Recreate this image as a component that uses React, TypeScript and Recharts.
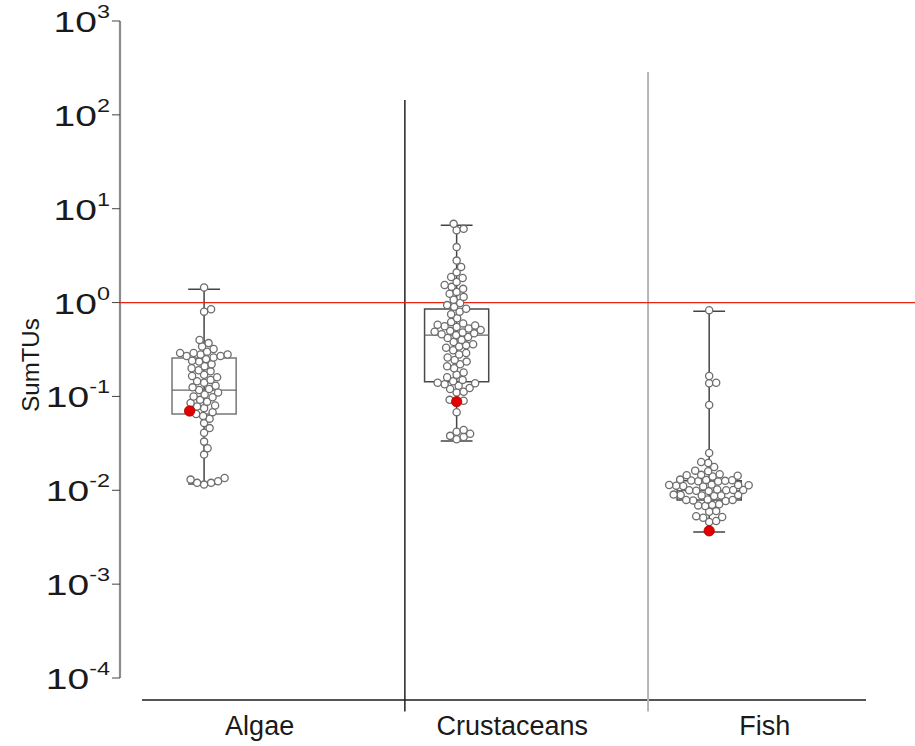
import React from "react";
import {
  ComposedChart,
  Scatter,
  XAxis,
  YAxis,
  ReferenceLine,
  ReferenceArea,
} from "recharts";

const GROUPS = ["Algae", "Crustaceans", "Fish"];

const ALGAE = [
  1.45, 0.85, 0.8, 0.4, 0.37, 0.34, 0.32, 0.3, 0.29, 0.29, 0.28, 0.28, 0.27,
  0.27, 0.26, 0.25, 0.24, 0.235, 0.22, 0.21, 0.2, 0.19, 0.185, 0.17, 0.165,
  0.16, 0.15, 0.145, 0.14, 0.13, 0.125, 0.12, 0.117, 0.11, 0.105, 0.1, 0.098,
  0.092, 0.088, 0.085, 0.08, 0.078, 0.075, 0.068, 0.065, 0.062, 0.058, 0.052,
  0.046, 0.041, 0.033, 0.028, 0.024, 0.0135, 0.013, 0.0125, 0.012, 0.012,
  0.0115,
];

const CRUSTACEANS = [
  6.9, 6.1, 5.9, 3.9, 2.8, 2.4, 2.1, 1.87, 1.83, 1.66, 1.54, 1.47, 1.4, 1.3,
  1.24, 1.15, 1.07, 0.99, 0.94, 0.9, 0.86, 0.8, 0.75, 0.68, 0.62, 0.6, 0.58,
  0.57, 0.56, 0.55, 0.53, 0.51, 0.5, 0.49, 0.48, 0.47, 0.46, 0.45, 0.43, 0.42,
  0.4, 0.38, 0.36, 0.35, 0.34, 0.33, 0.31, 0.29, 0.28, 0.26, 0.245, 0.235,
  0.22, 0.21, 0.2, 0.18, 0.17, 0.16, 0.15, 0.145, 0.14, 0.138, 0.135, 0.13,
  0.123, 0.12, 0.112, 0.11, 0.092, 0.09, 0.068, 0.044, 0.042, 0.04, 0.038,
  0.037, 0.035,
];

const FISH = [
  0.83, 0.165, 0.14, 0.138, 0.081, 0.025, 0.02, 0.0195, 0.0177, 0.0162, 0.016,
  0.0148, 0.0146, 0.0145, 0.0143, 0.014, 0.013, 0.0129, 0.0128, 0.0127,
  0.0126, 0.0125, 0.0124, 0.0115, 0.0114, 0.0114, 0.0113, 0.0112, 0.0111,
  0.011, 0.0102, 0.0101, 0.0101, 0.01, 0.01, 0.0099, 0.0098, 0.009, 0.0089,
  0.0089, 0.0088, 0.0088, 0.0087, 0.008, 0.0079, 0.0079, 0.0078, 0.0077,
  0.0071, 0.007, 0.0069, 0.0068, 0.006, 0.0059, 0.0053, 0.0052, 0.0051,
  0.0047, 0.0046,
];

const SERIES = [ALGAE, CRUSTACEANS, FISH];
const HIGHLIGHT = [0.07, 0.088, 0.0037];

// box plot stats
const BOX_MIN = [0.0117, 0.0336, 0.0036];
const BOX_Q1 = [0.065, 0.143, 0.0079];
const BOX_MEDIAN = [0.117, 0.451, 0.0099];
const BOX_Q3 = [0.257, 0.853, 0.0126];
const BOX_MAX = [1.39, 6.67, 0.81];

const Y_TICKS = [1e-4, 1e-3, 1e-2, 1e-1, 1, 10, 100, 1000];
const THRESHOLD = 1;

// layout
const W = 915;
const H = 746;
const TOP = 21;
const LEFT = 120;
const XAXIS_H = 46;
const X_MIN = -0.333;
const X_MAX = 2.815;
const Y_FLOOR = 5.83e-5;
const Y_CEIL = 1000;
const BOX_HALF = 0.127;
const CAP_HALF = 0.063;
const LABEL_SHIFT = 0.22;
const SEPARATORS = [
  { x: 0.795, top: 144, color: "#222", width: 1.5 },
  { x: 1.758, top: 286, color: "#b5b5b5", width: 2 },
];
const SEP_BOTTOM = 4.4e-5;
const XLINE_FROM = -0.246;
const XLINE_TO = 2.621;
const FONT = "'Liberation Sans', Arial, sans-serif";

const PX_PER_UNIT = (W - LEFT) / (X_MAX - X_MIN);
const PX_PER_DECADE =
  (H - XAXIS_H - TOP) / (Math.log10(Y_CEIL) - Math.log10(Y_FLOOR));
const DOT_GAP = 7;

// simple beeswarm: push each dot sideways until it doesn't overlap
function swarm(values: number[], red: number, center: number) {
  const items = values
    .map((v) => ({ v, red: false }))
    .concat([{ v: red, red: true }])
    .sort((a, b) => a.v - b.v);
  const placed: { px: number; py: number }[] = [];
  return items.map((it) => {
    const py = -Math.log10(it.v) * PX_PER_DECADE;
    let best = 0;
    for (let step = 0; step < 400; step++) {
      const cand =
        step === 0 ? 0 : (step % 2 ? 1 : -1) * Math.ceil(step / 2) * 0.5;
      const ok = placed.every(
        (p) => (p.px - cand) ** 2 + (p.py - py) ** 2 >= DOT_GAP * DOT_GAP
      );
      if (ok) {
        best = cand;
        break;
      }
    }
    placed.push({ px: best, py });
    return { x: center + best / PX_PER_UNIT, y: it.v, red: it.red };
  });
}

const allPoints = SERIES.flatMap((vals, i) => swarm(vals, HIGHLIGHT[i], i));
const openPoints = allPoints.filter((p) => !p.red);
const redPoints = allPoints.filter((p) => p.red);

const YTick = (props: any) => {
  const { x, y, payload } = props;
  const exp = Math.round(Math.log10(payload.value));
  return (
    <g transform={`translate(${x},${y}) scale(1.3,1)`}>
      <text x={0} y={0} textAnchor="end" fill="#1a1a1a" fontFamily={FONT}>
        <tspan fontSize={30} dy={11}>
          10
        </tspan>
        <tspan fontSize={18} dy={-14}>
          {exp}
        </tspan>
      </text>
    </g>
  );
};

const XTick = (props: any) => {
  const { x, y, payload } = props;
  const idx = Math.round(payload.value - LABEL_SHIFT);
  return (
    <text
      x={x}
      y={y + 35}
      textAnchor="middle"
      fill="#1a1a1a"
      fontSize={27}
      fontFamily={FONT}
    >
      {GROUPS[idx]}
    </text>
  );
};

const OpenDot = (props: any) => (
  <circle
    cx={props.cx}
    cy={props.cy}
    r={3.6}
    fill="#fff"
    stroke="#6e6e6e"
    strokeWidth={1.3}
  />
);

const RedDot = (props: any) => (
  <circle
    cx={props.cx}
    cy={props.cy}
    r={5.2}
    fill="#e00000"
    stroke="#b00000"
    strokeWidth={0.8}
  />
);

export default function App() {
  return (
    <div style={{ position: "absolute", left: 0, top: 0, background: "#fff" }}>
      <ComposedChart
        width={W}
        height={H}
        margin={{ top: TOP, right: 0, bottom: 0, left: 0 }}
      >
        <XAxis
          type="number"
          dataKey="x"
          domain={[X_MIN, X_MAX]}
          allowDataOverflow
          ticks={GROUPS.map((_, i) => i + LABEL_SHIFT)}
          tick={<XTick />}
          tickLine={false}
          axisLine={false}
          tickSize={0}
          tickMargin={0}
          height={XAXIS_H}
          interval={0}
        />
        <YAxis
          type="number"
          dataKey="y"
          scale="log"
          domain={[Y_FLOOR, Y_CEIL]}
          allowDataOverflow
          ticks={Y_TICKS}
          tick={<YTick />}
          tickLine={{ stroke: "#444", strokeWidth: 1 }}
          tickSize={8}
          tickMargin={2}
          axisLine={false}
          width={LEFT}
          interval={0}
          label={{
            content: () => (
              <text
                transform="translate(39,365) rotate(-90)"
                textAnchor="middle"
                fontSize={24}
                fill="#1a1a1a"
                fontFamily={FONT}
              >
                SumTUs
              </text>
            ),
          }}
        />

        {/* axis lines */}
        <ReferenceLine
          segment={[
            { x: X_MIN, y: Y_TICKS[0] },
            { x: X_MIN, y: Y_TICKS[Y_TICKS.length - 1] },
          ]}
          stroke="#8c8c8c"
          strokeWidth={2.2}
          ifOverflow="visible"
        />
        <ReferenceLine
          segment={[
            { x: XLINE_FROM, y: Y_FLOOR },
            { x: XLINE_TO, y: Y_FLOOR },
          ]}
          stroke="#555"
          strokeWidth={2}
          ifOverflow="visible"
        />
        {SEPARATORS.map((s, i) => (
          <ReferenceLine
            key={`sep${i}`}
            segment={[
              { x: s.x, y: SEP_BOTTOM },
              { x: s.x, y: s.top },
            ]}
            stroke={s.color}
            strokeWidth={s.width}
            ifOverflow="visible"
          />
        ))}

        {/* box plots */}
        {GROUPS.map((g, i) => (
          <ReferenceLine
            key={`wh${g}`}
            segment={[
              { x: i, y: BOX_MIN[i] },
              { x: i, y: BOX_MAX[i] },
            ]}
            stroke="#444"
            strokeWidth={1.5}
            ifOverflow="visible"
          />
        ))}
        {GROUPS.map((g, i) =>
          [BOX_MIN[i], BOX_MAX[i]].map((v, k) => (
            <ReferenceLine
              key={`cap${g}${k}`}
              segment={[
                { x: i - CAP_HALF, y: v },
                { x: i + CAP_HALF, y: v },
              ]}
              stroke="#444"
              strokeWidth={1.5}
              ifOverflow="visible"
            />
          ))
        )}
        {GROUPS.map((g, i) => (
          <ReferenceArea
            key={`box${g}`}
            x1={i - BOX_HALF}
            x2={i + BOX_HALF}
            y1={BOX_Q1[i]}
            y2={BOX_Q3[i]}
            fill="#fff"
            fillOpacity={1}
            stroke={i === 0 ? "#777" : "#4a4a4a"}
            strokeWidth={1.5}
            ifOverflow="visible"
          />
        ))}
        {GROUPS.map((g, i) => (
          <ReferenceLine
            key={`med${g}`}
            segment={[
              { x: i - BOX_HALF, y: BOX_MEDIAN[i] },
              { x: i + BOX_HALF, y: BOX_MEDIAN[i] },
            ]}
            stroke="#666"
            strokeWidth={1.3}
            ifOverflow="visible"
          />
        ))}

        <ReferenceLine
          y={THRESHOLD}
          stroke="#e8230f"
          strokeWidth={1.3}
          ifOverflow="visible"
        />

        <Scatter
          data={openPoints}
          shape={<OpenDot />}
          isAnimationActive={false}
        />
        <Scatter
          data={redPoints}
          shape={<RedDot />}
          isAnimationActive={false}
        />
      </ComposedChart>
    </div>
  );
}
